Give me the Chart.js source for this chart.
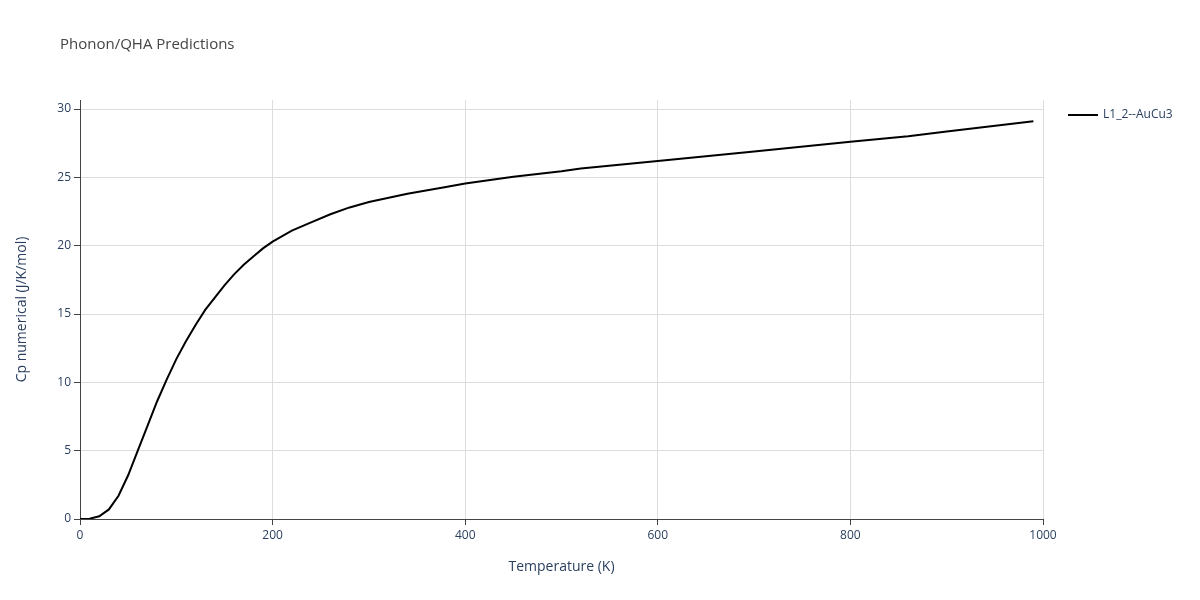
<!DOCTYPE html>
<html lang="en">
<head>
    <meta charset="UTF-8">
    <title>Phonon/QHA Predictions</title>
    <script src="https://cdn.jsdelivr.net/npm/chart.js"></script>
    <style>
        body { margin: 0; background: #fff; }
        #wrap { width: 1200px; height: 600px; position: relative; }
    </style>
</head>
<body>
<div id="wrap"><canvas id="cp-chart"></canvas></div>
<script>
    // data
    var temps = [0, 10, 20, 30, 40, 50, 60, 70, 80, 90, 100, 110, 120, 130, 140, 150, 160, 170, 180, 190,
                 200, 220, 240, 260, 280, 300, 340, 380, 400, 450, 500, 520, 600, 700, 800, 860, 900, 990];
    var cpValues = [0, 0.02, 0.2, 0.7, 1.7, 3.2, 5.0, 6.8, 8.6, 10.2, 11.7, 13.0, 14.2, 15.3, 16.2, 17.1, 17.9, 18.6, 19.2, 19.8,
                    20.3, 21.1, 21.7, 22.3, 22.8, 23.2, 23.8, 24.3, 24.55, 25.05, 25.45, 25.65, 26.2, 26.9, 27.6, 28.0, 28.35, 29.1];
    var yTicks = [0, 5, 10, 15, 20, 25, 30];
    var seriesName = 'L1_2--AuCu3';
    var chartTitle = 'Phonon/QHA Predictions';

    var points = temps.map(function(t, i) { return {x: t, y: cpValues[i]}; });
    var tickColor = '#2a3f5f';

    // title and legend drawn at fixed spots like the reference
    var overlay = {
        id: 'overlay',
        afterDraw: function(chart) {
            var ctx = chart.ctx;
            ctx.save();
            ctx.fillStyle = '#444';
            ctx.font = '15px "Open Sans"';
            ctx.textBaseline = 'middle';
            ctx.fillText(chartTitle, 60, 45);
            ctx.strokeStyle = '#000';
            ctx.lineWidth = 2;
            ctx.beginPath();
            ctx.moveTo(1068, 115);
            ctx.lineTo(1098, 115);
            ctx.stroke();
            ctx.fillStyle = tickColor;
            ctx.font = '12px "Open Sans"';
            ctx.fillText(seriesName, 1103, 115);
            ctx.restore();
        }
    };

    new Chart(document.getElementById('cp-chart'), {
        type: 'scatter',
        data: {
            datasets: [{
                label: seriesName,
                data: points,
                showLine: true,
                borderColor: '#000',
                backgroundColor: '#000',
                borderWidth: 2,
                pointRadius: 0,
                tension: 0
            }]
        },
        options: {
            responsive: true,
            maintainAspectRatio: false,
            animation: false,
            layout: { padding: { left: 10, right: 157, top: 100, bottom: 21 } },
            plugins: {
                legend: { display: false },
                title: { display: false },
                tooltip: { enabled: false }
            },
            scales: {
                x: {
                    type: 'linear', min: 0, max: 1000,
                    afterFit: function(axis) { axis.height = 60; },
                    title: { display: true, text: 'Temperature (K)', color: tickColor, font: { family: 'Open Sans', size: 14 }, padding: { top: 10 } },
                    ticks: { stepSize: 200, color: tickColor, font: { family: 'Open Sans', size: 12 },
                             callback: function(v) { return String(v); } },
                    grid: { color: '#ddd', tickColor: '#444', tickLength: 6 },
                    border: { color: '#444' }
                },
                y: {
                    min: 0, max: 30.66,
                    afterFit: function(axis) { axis.width = 70; },
                    afterBuildTicks: function(axis) { axis.ticks = yTicks.map(function(v) { return {value: v}; }); },
                    title: { display: true, text: 'Cp numerical (J/K/mol)', color: tickColor, font: { family: 'Open Sans', size: 14 } },
                    ticks: { color: tickColor, font: { family: 'Open Sans', size: 12 } },
                    grid: { color: '#ddd', tickColor: '#444', tickLength: 6 },
                    border: { color: '#444' }
                }
            }
        },
        plugins: [overlay]
    });
</script>
</body>
</html>
